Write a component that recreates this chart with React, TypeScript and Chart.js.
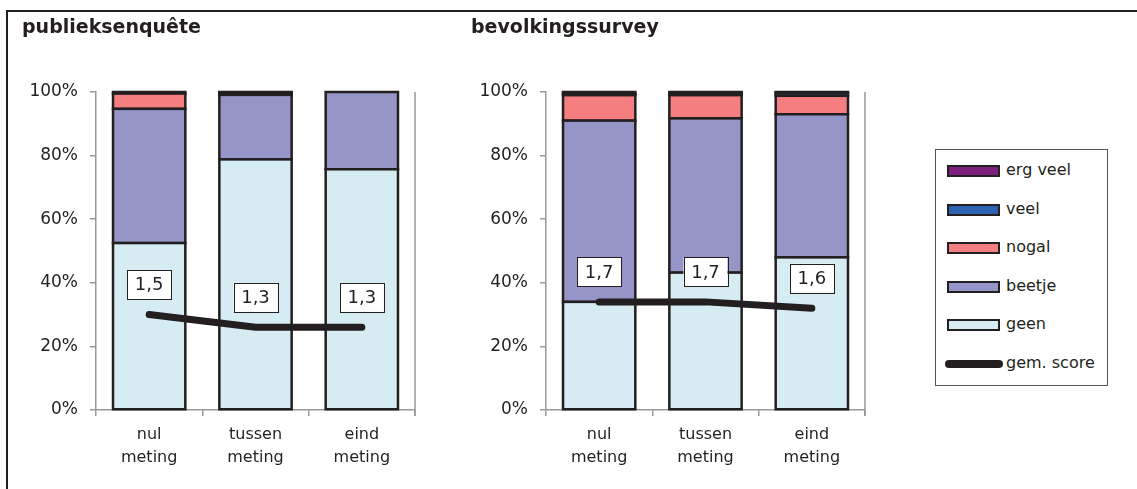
import React, { useEffect, useRef } from "react";
import { Chart, registerables } from "chart.js";

Chart.register(...registerables);

// ---- data ----
const categories = [
  ["nul", "meting"],
  ["tussen", "meting"],
  ["eind", "meting"],
];
const seriesNames = ["geen", "beetje", "nogal", "veel", "erg veel"];
const scoreName = "gem. score";
const seriesColors = ["#D4ECF2", "#9595C7", "#F47E80", "#2B63AE", "#7D1F7E"];
const yTicks = [0, 20, 40, 60, 80, 100];

const pubTitle = "publieksenquête";
const pubGeen = [52.5, 78.8, 75.7];
const pubBeetje = [42.2, 20.3, 24.3];
const pubNogal = [4.8, 0.3, 0];
const pubVeel = [0, 0.3, 0];
const pubErgVeel = [0.5, 0.3, 0];
const pubScore = [1.5, 1.3, 1.3];

const bevTitle = "bevolkingssurvey";
const bevGeen = [34, 43.2, 48];
const bevBeetje = [57, 48.5, 45];
const bevNogal = [8, 7.3, 5.8];
const bevVeel = [0.5, 0.5, 0.9];
const bevErgVeel = [0.5, 0.5, 0.3];
const bevScore = [1.7, 1.7, 1.6];

const FONT = "DejaVu Sans";
const DARK = "#231F20";
const AXIS = "#999999";

Chart.defaults.font.family = FONT;
Chart.defaults.color = DARK;

const CANVAS_W = 440;
const CANVAS_H = 489;

const rightBorderPlugin = {
  id: "rightBorder",
  afterDraw(chart: any) {
    const { ctx, chartArea } = chart;
    ctx.save();
    ctx.strokeStyle = AXIS;
    ctx.lineWidth = 1.5;
    ctx.beginPath();
    ctx.moveTo(chartArea.right, chartArea.top);
    ctx.lineTo(chartArea.right, chartArea.bottom + 6);
    ctx.stroke();
    ctx.restore();
  },
};

// Excel-like centred outlines round every bar segment
const barOutlinePlugin = {
  id: "barOutline",
  afterDatasetDraw(chart: any, args: any) {
    const ds = chart.data.datasets[args.index];
    if (ds.type !== "bar") return;
    const { ctx } = chart;
    const meta = args.meta;
    ctx.save();
    ctx.strokeStyle = DARK;
    ctx.lineWidth = 2.5;
    ctx.lineJoin = "miter";
    meta.data.forEach((bar: any) => {
      const p = bar.getProps(["x", "y", "base", "width"], true);
      const h = Math.abs(p.base - p.y);
      if (!(h > 0.01)) return;
      const top = Math.min(p.y, p.base);
      ctx.strokeRect(p.x - p.width / 2, top, p.width, h);
    });
    ctx.restore();
  },
};

const scoreLabelPlugin = {
  id: "scoreLabels",
  afterDatasetsDraw(chart: any) {
    const { ctx } = chart;
    chart.data.datasets.forEach((ds: any, i: number) => {
      if (ds.type !== "line") return;
      const meta = chart.getDatasetMeta(i);
      meta.data.forEach((pt: any, j: number) => {
        const w = 44;
        const h = 29;
        const cx = pt.x;
        const cy = pt.y - 30;
        ctx.save();
        ctx.fillStyle = "#ffffff";
        ctx.fillRect(cx - w / 2, cy - h / 2, w, h);
        ctx.strokeStyle = DARK;
        ctx.lineWidth = 1;
        ctx.strokeRect(Math.round(cx - w / 2) + 0.5, Math.round(cy - h / 2) + 0.5, w, h);
        ctx.fillStyle = DARK;
        ctx.font = `18px "${FONT}"`;
        ctx.textAlign = "center";
        ctx.textBaseline = "middle";
        ctx.fillText(String(ds.data[j]).replace(".", ","), cx, cy + 1);
        ctx.restore();
      });
    });
  },
};

function buildConfig(series: number[][], score: number[]) {
  const barSets = series.map((vals, i) => ({
    type: "bar",
    label: seriesNames[i],
    data: vals,
    backgroundColor: seriesColors[i],
    borderWidth: 0,
    inflateAmount: 0,
    categoryPercentage: 0.68,
    barPercentage: 1,
    yAxisID: "y",
    order: 1,
  }));
  const lineSet = {
    type: "line",
    label: scoreName,
    data: score,
    borderColor: DARK,
    backgroundColor: DARK,
    borderWidth: 7,
    borderCapStyle: "round",
    borderJoinStyle: "round",
    pointRadius: 0,
    tension: 0,
    yAxisID: "score",
    order: 0,
  };
  return {
    type: "bar",
    data: {
      labels: categories,
      datasets: [...barSets, lineSet],
    },
    options: {
      responsive: false,
      animation: false,
      events: [],
      layout: { padding: { top: 92, right: 25, bottom: 0, left: 0 } },
      plugins: {
        legend: { display: false },
        tooltip: { enabled: false },
        title: { display: false },
      },
      scales: {
        x: {
          stacked: true,
          grid: {
            offset: true,
            drawOnChartArea: false,
            drawTicks: true,
            tickLength: 6,
            color: AXIS,
            lineWidth: 1.5,
          },
          border: { display: true, color: AXIS, width: 1.5 },
          ticks: {
            font: { size: 16, lineHeight: 1.4 },
            color: DARK,
            padding: 8,
            maxRotation: 0,
          },
          afterFit(scale: any) {
            scale.height = CANVAS_H - 410;
          },
        },
        y: {
          stacked: true,
          min: 0,
          max: 100,
          afterBuildTicks(scale: any) {
            scale.ticks = yTicks.map((v) => ({ value: v }));
          },
          grid: {
            drawOnChartArea: false,
            drawTicks: true,
            tickLength: 6,
            color: AXIS,
            lineWidth: 1.5,
          },
          border: { display: true, color: AXIS, width: 1.5 },
          ticks: {
            font: { size: 17 },
            color: DARK,
            padding: 12,
            callback: (v: any) => v + "%",
          },
          afterFit(scale: any) {
            scale.width = 96;
          },
        },
        score: {
          display: false,
          min: 0,
          max: 5,
        },
      },
    },
    plugins: [barOutlinePlugin, rightBorderPlugin, scoreLabelPlugin],
  };
}

function StackChart({ series, score, left }: { series: number[][]; score: number[]; left: number }) {
  const ref = useRef<HTMLCanvasElement | null>(null);
  useEffect(() => {
    if (!ref.current) return;
    const chart = new Chart(ref.current, buildConfig(series, score) as any);
    return () => chart.destroy();
  }, []);
  return (
    <canvas
      ref={ref}
      width={CANVAS_W}
      height={CANVAS_H}
      style={{ position: "absolute", left, top: 0, width: CANVAS_W, height: CANVAS_H }}
    />
  );
}

const legendTops = [171, 210, 248, 287, 325];

export default function App() {
  const titleStyle: React.CSSProperties = {
    position: "absolute",
    top: 17,
    fontFamily: FONT,
    fontWeight: "bold",
    fontSize: 19,
    lineHeight: "19px",
    color: DARK,
    whiteSpace: "nowrap",
  };
  const legendOrder = [4, 3, 2, 1, 0];
  return (
    <div
      style={{
        position: "absolute",
        left: 0,
        top: 0,
        width: 1137,
        height: 489,
        overflow: "hidden",
        background: "#ffffff",
      }}
    >
      <StackChart
        series={[pubGeen, pubBeetje, pubNogal, pubVeel, pubErgVeel]}
        score={pubScore}
        left={0}
      />
      <StackChart
        series={[bevGeen, bevBeetje, bevNogal, bevVeel, bevErgVeel]}
        score={bevScore}
        left={450}
      />
      {/* frame */}
      <div style={{ position: "absolute", left: 6, top: 10, width: 1131, height: 2, background: DARK }} />
      <div style={{ position: "absolute", left: 6, top: 10, width: 2, height: 479, background: DARK }} />
      <div style={{ ...titleStyle, left: 22 }}>{pubTitle}</div>
      <div style={{ ...titleStyle, left: 471 }}>{bevTitle}</div>
      {/* legend */}
      <div
        style={{
          position: "absolute",
          left: 935,
          top: 149,
          width: 171,
          height: 235,
          border: "1px solid #555",
          background: "#fff",
        }}
      />
      {legendOrder.map((idx, k) => (
        <React.Fragment key={idx}>
          <div
            style={{
              position: "absolute",
              left: 947,
              top: legendTops[k] - 6,
              width: 49,
              height: 8,
              background: seriesColors[idx],
              border: `2px solid ${DARK}`,
            }}
          />
          <div
            style={{
              position: "absolute",
              left: 1006,
              top: legendTops[k] - 11,
              height: 20,
              lineHeight: "20px",
              fontFamily: FONT,
              fontSize: 16,
              color: DARK,
              whiteSpace: "nowrap",
            }}
          >
            {seriesNames[idx]}
          </div>
        </React.Fragment>
      ))}
      <div
        style={{
          position: "absolute",
          left: 945,
          top: 360,
          width: 58,
          height: 8,
          borderRadius: 4,
          background: DARK,
        }}
      />
      <div
        style={{
          position: "absolute",
          left: 1006,
          top: 353,
          height: 20,
          lineHeight: "20px",
          fontFamily: FONT,
          fontSize: 16,
          color: DARK,
          whiteSpace: "nowrap",
        }}
      >
        {scoreName}
      </div>
    </div>
  );
}
